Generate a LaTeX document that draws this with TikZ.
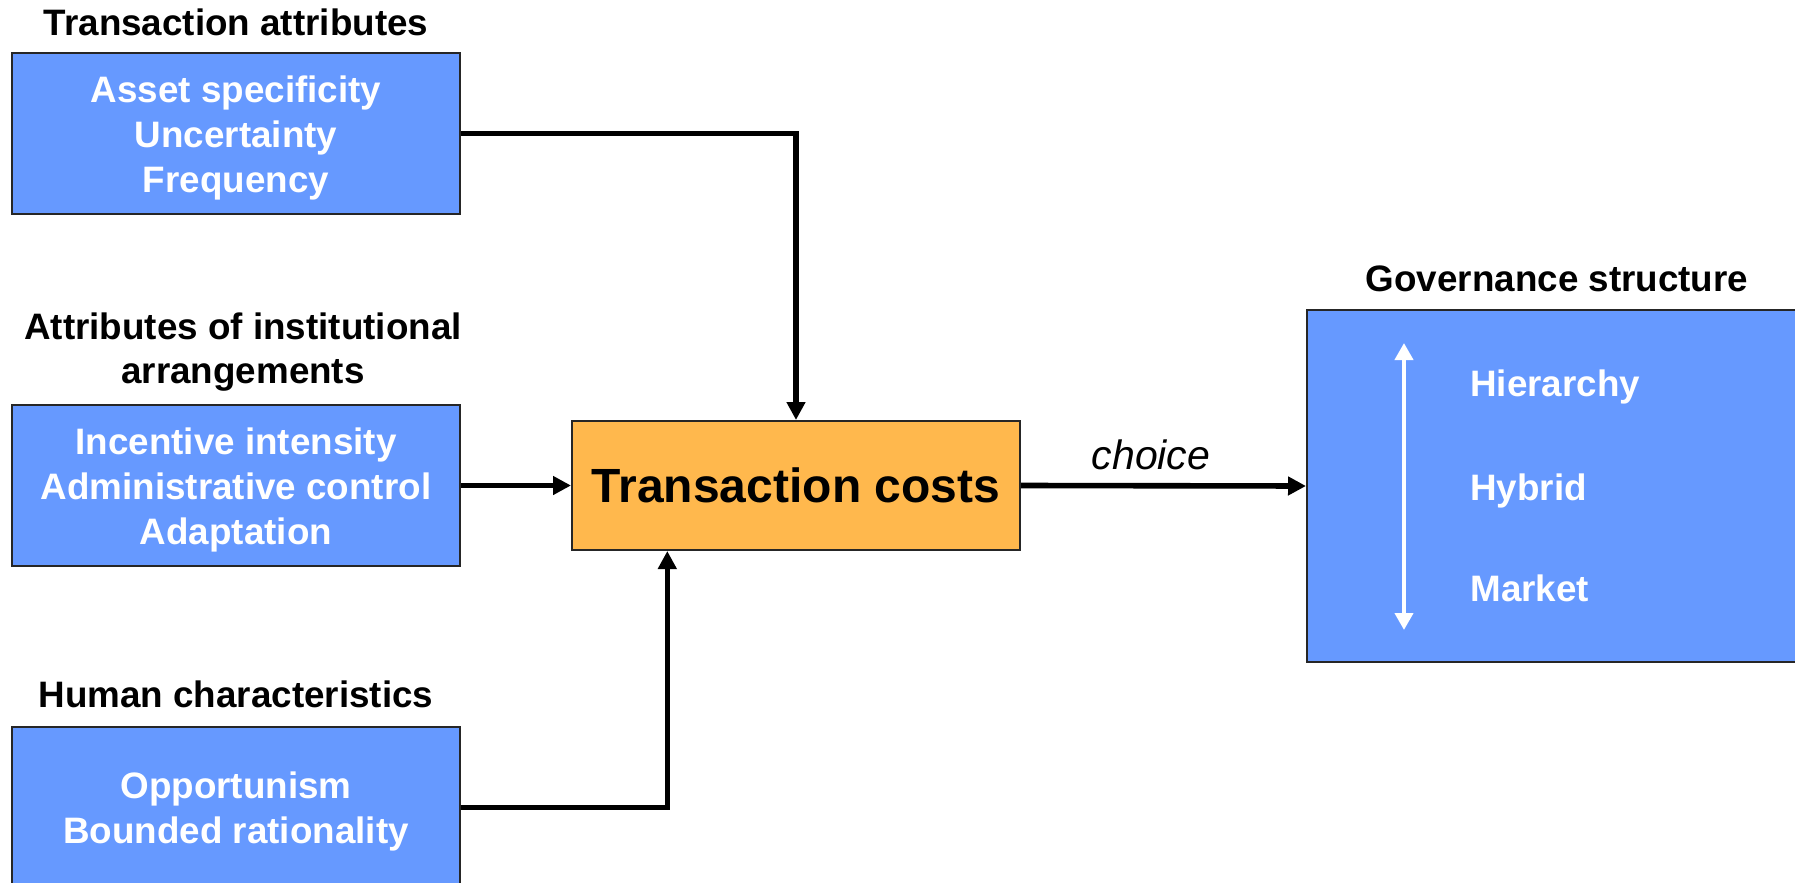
\documentclass[tikz,border=0pt]{standalone}
\usepackage{fontspec}
\setmainfont{Liberation Sans}
\usetikzlibrary{arrows.meta,calc}
\definecolor{boxblue}{RGB}{102,153,255}
\definecolor{costorange}{RGB}{255,184,77}
\begin{document}
\begin{tikzpicture}[x=0.5pt,y=-0.5pt,
  attrbox/.style={draw=black!85, line width=1pt, fill=boxblue,
    minimum width=224pt, minimum height=80.5pt, inner sep=0pt},
  boxtext/.style={text=white, font=\bfseries\fontsize{18.4}{22.5}\selectfont,
    align=center, inner sep=0pt},
  head/.style={font=\bfseries\fontsize{18.4}{22}\selectfont, align=center, inner sep=0pt},
  govitem/.style={text=white, font=\bfseries\fontsize{18.4}{22}\selectfont,
    anchor=base west, inner sep=0pt},
  link/.style={line width=2.8pt, draw=black,
    -{Triangle[length=9pt,width=9pt]}},
]
\useasboundingbox (0,0) rectangle (1795,883);
\clip (0,0) rectangle (1795,883);

% headings
\node[head, anchor=base] (h1) at (236,36) {Transaction attributes};
\node[head] (h2) at (243,352.5) {Attributes of institutional\\arrangements};
\node[head, anchor=base] (h3) at (236,707) {Human characteristics};
\node[head, anchor=base] (h4) at (1557,292) {Governance structure};

% attribute boxes
\node[attrbox] (b1) at (236,133.5) {};
\node[boxtext] (t1) at (236,138) {Asset specificity\\Uncertainty\\Frequency};
\node[attrbox] (b2) at (236,485.5) {};
\node[boxtext] (t2) at (236,490) {Incentive intensity\\Administrative control\\Adaptation};
\node[attrbox] (b3) at (236,807.5) {};
\node[boxtext] (t3) at (236,811) {Opportunism\\Bounded rationality};

% transaction costs
\node[draw=black!85, line width=1pt, fill=costorange, minimum width=224pt,
  minimum height=64.5pt, inner sep=0pt,
  font=\bfseries\fontsize{24}{28}\selectfont] (tc) at (796,485.5) {Transaction costs};

% governance structure
\node[draw=black!85, line width=1pt, fill=boxblue, minimum width=250pt,
  minimum height=176pt, inner sep=0pt] (gov) at (1557,486) {};
\node[govitem] (g1) at (1470,396.7) {Hierarchy};
\node[govitem] (g2) at (1470,500) {Hybrid};
\node[govitem] (g3) at (1470,601.7) {Market};
\coordinate (rtop) at (1404,343);
\coordinate (rbot) at (1404,630);
\draw[white, line width=2pt,
  {Triangle[length=8.5pt,width=9pt]}-{Triangle[length=8.5pt,width=9pt]}]
  (rtop) -- (rbot);

% connectors
\coordinate (tcin) at ($(tc.south west)!0.214!(tc.south east)$);
\draw[link] (b1.east) -| (tc.north);
\draw[link] (b2.east) -- (tc.west);
\draw[link] (b3.east) -| (tcin);
\draw[link] (tc.east) -- (gov.west);
\node[font=\itshape\fontsize{20.5}{22}\selectfont, anchor=base, inner sep=0pt]
  (ch) at (1151,469) {choice};
\end{tikzpicture}
\end{document}
